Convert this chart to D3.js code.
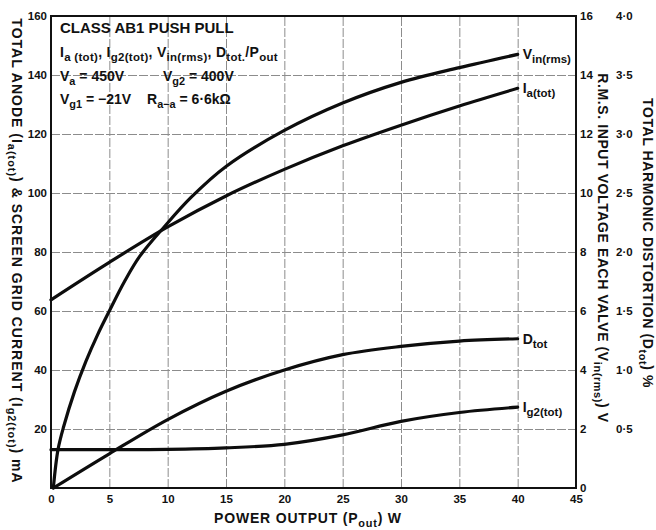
<!DOCTYPE html>
<html>
<head>
<meta charset="utf-8">
<script src="https://cdn.jsdelivr.net/npm/d3@7"></script>
<style>
  html, body { margin: 0; padding: 0; background: #fff; }
  svg text { font-family: "Liberation Sans", Arial, sans-serif; font-weight: bold; fill: #111; }
  .grid line { stroke: #8c8c8c; stroke-width: 1; stroke-dasharray: 9 2; }
  .grid .domain { display: none; }
  .axis .domain, .axis line { display: none; }
  .curve { fill: none; stroke: #0d0d0d; stroke-width: 3.2; stroke-linecap: round; }
</style>
</head>
<body>
<div id="chart"></div>
<script>

// ---- data ----
const powerTicks = [0, 5, 10, 15, 20, 25, 30, 35, 40, 45];
const currentTicks = [20, 40, 60, 80, 100, 120, 140, 160];
const voltTicks = [0, 2, 4, 6, 8, 10, 12, 14, 16];
const thdTicks = [0.5, 1.0, 1.5, 2.0, 2.5, 3.0, 3.5, 4.0];

// V_in(rms), volts (right axis)
const vinPower = [0.2, 0.6, 1.1, 2.0, 3.0, 4.0, 5.0, 6.3, 7.6, 9.7, 12, 15, 20, 25, 30, 35, 40];
const vinVolts = [0, 1.3, 2.1, 3.25, 4.3, 5.2, 6.0, 7.0, 7.85, 8.85, 9.85, 10.9, 12.12, 13.05, 13.75, 14.25, 14.7];

// I_a(tot), mA (left axis)
const iaPower = [0, 5, 10, 15, 20, 25, 30, 35, 40];
const iaCurrent = [63.8, 76.5, 88.5, 99, 108, 116, 123, 129.5, 135.5];

// D_tot, % (far right axis)
const dtotPower = [0.2, 5, 10, 15, 20, 25, 30, 35, 40];
const dtotPercent = [0, 0.29, 0.58, 0.82, 1.0, 1.13, 1.2, 1.245, 1.265];

// I_g2(tot), mA (left axis)
const ig2Power = [0, 5, 10, 15, 20, 25, 30, 35, 40];
const ig2Current = [13.0, 13.0, 13.1, 13.6, 14.8, 18.0, 22.6, 25.6, 27.4];

const width = 656, height = 530;
const plot = { left: 51, right: 576, top: 16, bottom: 488 };

// text with subscripts: parts = [[string, isSub], ...]
function richText(sel, parts, size, subScale = 0.78) {
    let shifted = 0;
    parts.forEach(([str, sub]) => {
        const target = sub ? Math.round(size * 0.3) : 0;
        sel.append("tspan")
            .attr("dy", target - shifted)
            .style("font-size", (sub ? size * subScale : size) + "px")
            .text(str);
        shifted = target;
    });
    return sel;
}

function fmtDot(v) {
    return v.toFixed(1).replace(".", "\u00b7");
}

function buildChart() {
    const svg = d3.select("#chart").append("svg")
        .attr("width", width)
        .attr("height", height);

    // scales
    const x = d3.scaleLinear().domain([0, 45]).range([plot.left, plot.right]);
    const yCur = d3.scaleLinear().domain([0, 160]).range([plot.bottom, plot.top]);
    const yVolt = d3.scaleLinear().domain([0, 16]).range([plot.bottom, plot.top]);
    const yThd = d3.scaleLinear().domain([0, 4]).range([plot.bottom, plot.top]);

    // grid
    svg.append("g")
        .attr("class", "grid")
        .attr("transform", `translate(0,${plot.bottom})`)
        .call(d3.axisBottom(x).tickValues(powerTicks.slice(1, -1))
            .tickSize(-(plot.bottom - plot.top)).tickFormat(""));
    svg.append("g")
        .attr("class", "grid")
        .attr("transform", `translate(${plot.left},0)`)
        .call(d3.axisLeft(yCur).tickValues(currentTicks.slice(0, -1))
            .tickSize(-(plot.right - plot.left)).tickFormat(""));

    // frame
    svg.append("rect")
        .attr("x", plot.left).attr("y", plot.top)
        .attr("width", plot.right - plot.left)
        .attr("height", plot.bottom - plot.top)
        .attr("fill", "none")
        .attr("stroke", "#111")
        .attr("stroke-width", 2);

    // axes
    const tickFont = 11.5;
    svg.append("g")
        .attr("class", "axis")
        .attr("transform", `translate(0,${plot.bottom})`)
        .call(d3.axisBottom(x).tickValues(powerTicks).tickSize(0).tickPadding(7))
        .selectAll("text").style("font-size", tickFont + "px");

    svg.append("g")
        .attr("class", "axis")
        .attr("transform", `translate(${plot.left},0)`)
        .call(d3.axisLeft(yCur).tickValues(currentTicks).tickSize(0).tickPadding(4))
        .selectAll("text").style("font-size", tickFont + "px");

    svg.append("g")
        .attr("class", "axis")
        .attr("transform", `translate(${plot.right},0)`)
        .call(d3.axisRight(yVolt).tickValues(voltTicks).tickSize(0).tickPadding(4))
        .selectAll("text").style("font-size", tickFont + "px");

    svg.append("g")
        .attr("class", "axis")
        .attr("transform", `translate(${plot.right},0)`)
        .call(d3.axisRight(yThd).tickValues(thdTicks).tickSize(0).tickPadding(40).tickFormat(fmtDot))
        .selectAll("text").style("font-size", tickFont + "px");

    // curves
    const series = [
        { px: vinPower, py: vinVolts, y: yVolt, label: [["V"], ["in(rms)", true]] },
        { px: iaPower, py: iaCurrent, y: yCur, label: [["I"], ["a(tot)", true]] },
        { px: dtotPower, py: dtotPercent, y: yThd, label: [["D"], ["tot", true]] },
        { px: ig2Power, py: ig2Current, y: yCur, label: [["I"], ["g2(tot)", true]] }
    ];

    series.forEach(s => {
        const pts = s.px.map((p, i) => [p, s.py[i]]);
        const line = d3.line()
            .x(d => x(d[0]))
            .y(d => s.y(d[1]))
            .curve(d3.curveCatmullRom.alpha(0.5));
        svg.append("path")
            .attr("class", "curve")
            .attr("d", line(pts));

        const last = pts[pts.length - 1];
        richText(svg.append("text")
            .attr("x", x(last[0]) + 5)
            .attr("y", s.y(last[1]) + 5), s.label, 14, 0.82);
    });

    // info block
    const info = svg.append("g");
    info.append("text").attr("x", 60).attr("y", 33)
        .style("font-size", "15px").text("CLASS AB1 PUSH PULL");
    richText(info.append("text").attr("x", 60).attr("y", 57).style("letter-spacing", "0.3px"),
        [["I"], ["a (tot)", true], [",  I"], ["g2(tot)", true], [",  V"], ["in(rms)", true],
         [",  D"], ["tot.", true], ["/P"], ["out", true]], 14, 0.82);
    richText(info.append("text").attr("x", 60).attr("y", 81),
        [["V"], ["a", true], [" = 450V"]], 14);
    richText(info.append("text").attr("x", 163).attr("y", 81),
        [["V"], ["g2", true], [" = 400V"]], 14);
    richText(info.append("text").attr("x", 60).attr("y", 104),
        [["V"], ["g1", true], [" = \u221221V"]], 14);
    richText(info.append("text").attr("x", 147).attr("y", 104),
        [["R"], ["a\u2212a", true], [" = 6\u00b76k\u03a9"]], 14);

    // axis titles
    richText(svg.append("text")
        .attr("text-anchor", "middle")
        .style("letter-spacing", "0.8px")
        .attr("x", 308).attr("y", 523),
        [["POWER OUTPUT (P"], ["out", true], [") W"]], 14);

    richText(svg.append("text")
        .attr("text-anchor", "middle")
        .style("letter-spacing", "1px")
        .attr("transform", "translate(12,251) rotate(90)"),
        [["TOTAL ANODE (I"], ["a(tot)", true], [") & SCREEN GRID CURRENT (I"], ["g2(tot)", true], [") mA"]], 14);

    richText(svg.append("text")
        .attr("text-anchor", "middle")
        .style("letter-spacing", "0.6px")
        .attr("transform", "translate(598,248) rotate(90)"),
        [["R.M.S. INPUT VOLTAGE EACH VALVE (V"], ["in(rms)", true], [") V"]], 14);

    richText(svg.append("text")
        .attr("text-anchor", "middle")
        .style("letter-spacing", "0.6px")
        .attr("transform", "translate(643,243) rotate(90)"),
        [["TOTAL HARMONIC DISTORTION (D"], ["tot", true], [") %"]], 14);
}

buildChart();
</script>
</body>
</html>
